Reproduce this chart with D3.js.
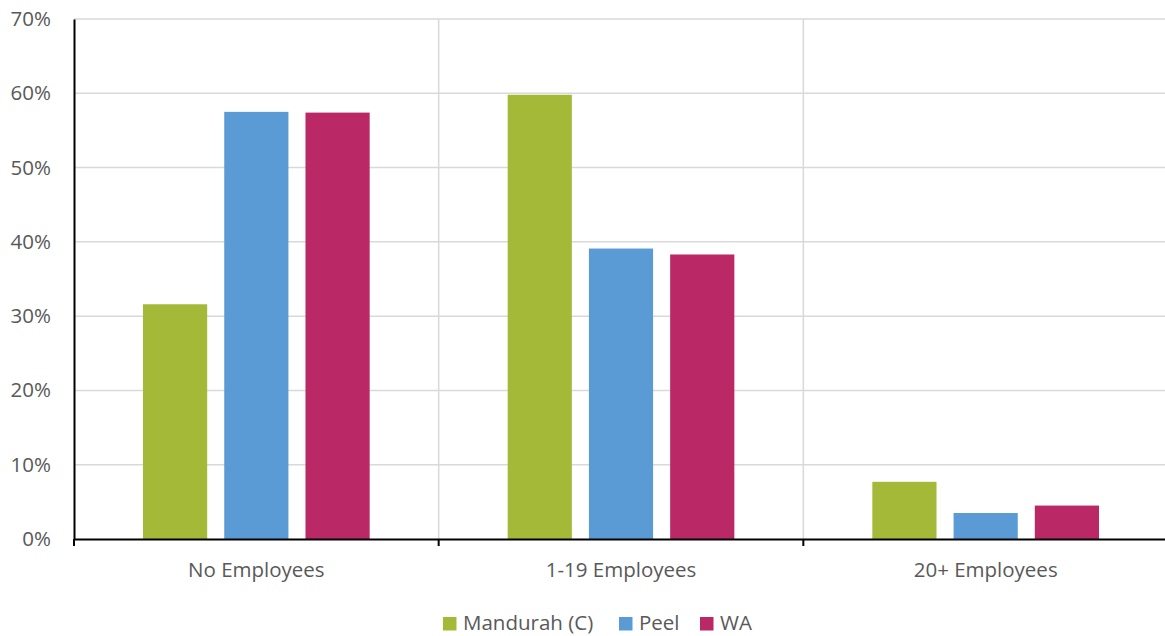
<!DOCTYPE html>
<html>
<head>
<meta charset="utf-8">
<script src="https://cdn.jsdelivr.net/npm/d3@7"></script>
<style>
  html, body { margin: 0; padding: 0; background: #fff; }
  svg { display: block; }
  text { font-family: "Open Sans", "Noto Sans", sans-serif; fill: #595959; }
</style>
</head>
<body>
<div id="chart"></div>
<script>
// Business size breakdown, share of businesses by number of employees
const categories = ["No Employees", "1-19 Employees", "20+ Employees"];
const seriesNames = ["Mandurah (C)", "Peel", "WA"];
const mandurah = [0.316, 0.598, 0.077];
const peel = [0.575, 0.391, 0.035];
const wa = [0.574, 0.383, 0.045];
const yTicks = [0, 0.1, 0.2, 0.3, 0.4, 0.5, 0.6, 0.7];
const colors = ["#A5B939", "#5B9BD5", "#BA2966"];

const seriesValues = [mandurah, peel, wa];
const W = 1165, H = 636;
const margin = { left: 74, top: 19, right: -3, bottom: 97 };
const plotW = W - margin.left - margin.right;
const plotH = H - margin.top - margin.bottom;
const FS = 20.5;

const svg = d3.select("#chart").append("svg").attr("width", W).attr("height", H);
const g = svg.append("g").attr("transform", `translate(${margin.left},${margin.top})`);

const x0 = d3.scaleBand().domain(categories).range([0, plotW]).paddingInner(0).paddingOuter(0);
const x1 = d3.scaleBand().domain(seriesNames).range([69, x0.bandwidth() - 69]).paddingInner(0.21).paddingOuter(0);
const y = d3.scaleLinear().domain([0, 0.7]).range([plotH, 0]);

// horizontal gridlines
g.append("g").selectAll("line").data(yTicks.filter(d => d > 0)).join("line")
  .attr("x1", 0).attr("x2", plotW)
  .attr("y1", d => y(d)).attr("y2", d => y(d))
  .attr("stroke", "#D9D9D9").attr("stroke-width", 1.5);

// vertical gridlines between categories
g.append("g").selectAll("line").data(categories.slice(1)).join("line")
  .attr("x1", d => x0(d)).attr("x2", d => x0(d))
  .attr("y1", 0).attr("y2", plotH)
  .attr("stroke", "#D9D9D9").attr("stroke-width", 1.5);

// bars
const groups = g.append("g").selectAll("g").data(categories).join("g")
  .attr("transform", d => `translate(${x0(d)},0)`);
groups.selectAll("rect")
  .data((c, ci) => seriesNames.map((s, si) => ({ s, si, v: seriesValues[si][ci] })))
  .join("rect")
  .attr("x", d => x1(d.s))
  .attr("width", x1.bandwidth())
  .attr("y", d => y(d.v))
  .attr("height", d => y(0) - y(d.v))
  .attr("fill", d => colors[d.si]);

// y axis
const yAxis = g.append("g").call(
  d3.axisLeft(y).tickValues(yTicks).tickFormat(d3.format(".0%")).tickSize(0).tickPadding(23)
);
yAxis.attr("font-size", null).attr("font-family", null);
yAxis.select(".domain").attr("stroke", "#000").attr("stroke-width", 2);
yAxis.selectAll("text").style("font-size", FS + "px").attr("fill", "#595959");

// x axis
const xAxis = g.append("g").attr("transform", `translate(0,${plotH})`).call(
  d3.axisBottom(x0).tickSize(0).tickPadding(23)
);
xAxis.attr("font-size", null).attr("font-family", null);
xAxis.select(".domain").attr("stroke", "#000").attr("stroke-width", 2);
xAxis.selectAll("text").style("font-size", FS + "px").attr("fill", "#595959");
// category boundary ticks
xAxis.append("g").selectAll("line").data(categories.concat(["end"])).join("line")
  .attr("x1", (d, i) => i * x0.bandwidth()).attr("x2", (d, i) => i * x0.bandwidth())
  .attr("y1", 0).attr("y2", 7)
  .attr("stroke", "#000").attr("stroke-width", 2);

// legend
const legendItems = [
  { name: seriesNames[0], x: 443 },
  { name: seriesNames[1], x: 619 },
  { name: seriesNames[2], x: 700 }
];
const legend = svg.append("g").attr("transform", "translate(0,617)");
legend.selectAll("rect").data(legendItems).join("rect")
  .attr("x", d => d.x).attr("y", 0).attr("width", 13.5).attr("height", 13.5)
  .attr("fill", (d, i) => colors[i]);
legend.selectAll("text").data(legendItems).join("text")
  .attr("x", d => d.x + 20).attr("y", 13)
  .style("font-size", FS + "px")
  .text(d => d.name);
</script>
</body>
</html>
